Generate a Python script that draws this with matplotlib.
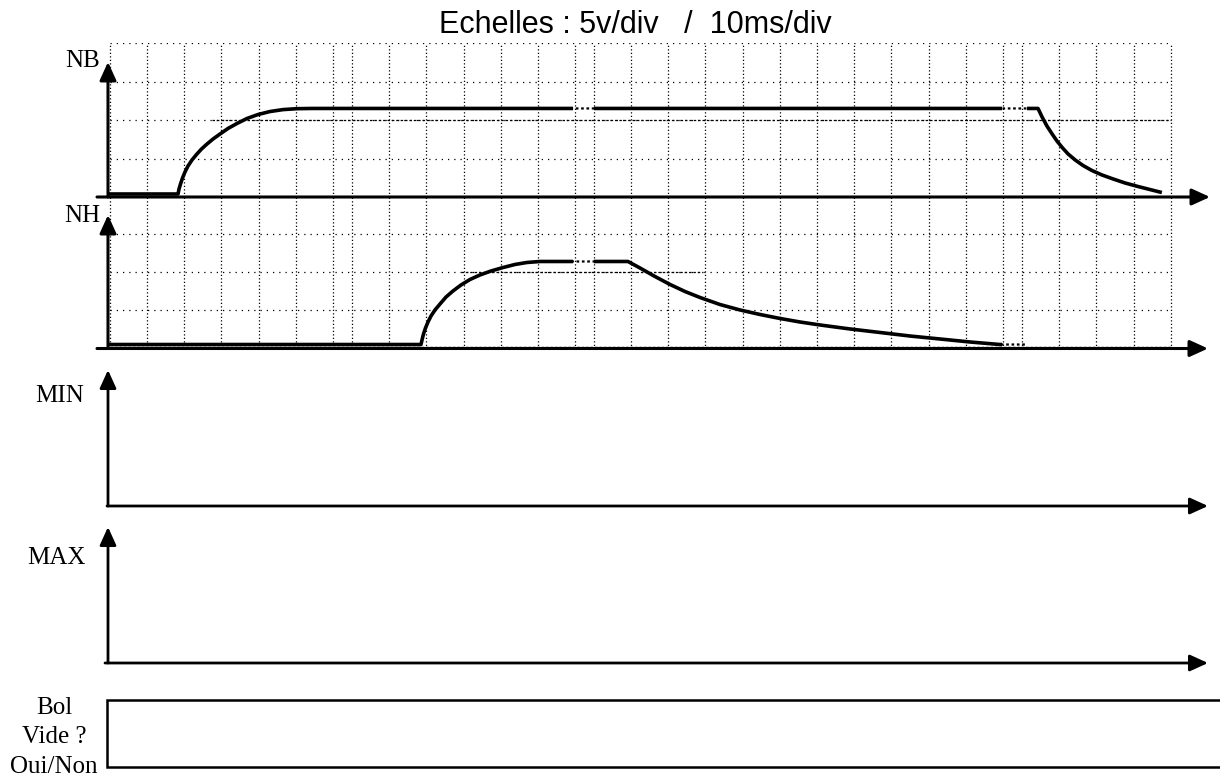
import numpy as np
import matplotlib
matplotlib.use("Agg")
import matplotlib.pyplot as plt
from matplotlib.patches import Rectangle

# ---------------- data ----------------
title = "Echelles : 5v/div   /  10ms/div"
panel_labels = ["NB", "NH", "MIN", "MAX"]
bol_labels = ["Bol", "Vide ?", "Oui/Non"]

# NB trace : time (ms), voltage (V)
nb_t = [0.0, 18.82, 19.09, 19.49, 20.03, 20.70, 21.51, 22.58, 23.79, 25.13, 26.61, 28.23,
        30.11, 32.26, 34.68, 37.37, 40.32, 43.55, 47.04, 50.81, 54.84,
        250.0, 251.1, 252.4, 253.8, 255.1, 256.5, 258.1, 260.0, 262.1, 264.5, 267.2,
        270.2, 273.4, 276.9, 280.1, 283.3]
nb_v = [0.39, 0.39, 1.04, 1.69, 2.47, 3.25, 4.03, 4.81, 5.52, 6.23, 6.88, 7.53,
        8.18, 8.90, 9.55, 10.20, 10.71, 11.10, 11.35, 11.47, 11.50,
        11.50, 10.39, 9.22, 8.18, 7.27, 6.43, 5.58, 4.81, 4.09, 3.44, 2.86,
        2.34, 1.82, 1.36, 0.97, 0.58]

# NH trace : time (ms), voltage (V)
nh_t = [0.0, 84.14, 84.41, 84.81, 85.35, 86.02, 86.83, 87.90, 89.25, 90.86, 92.74, 94.89,
        97.31, 100.0, 102.96, 106.18, 109.41, 112.63, 116.13,
        139.78, 143.01, 147.04, 151.08, 155.11, 159.14, 164.52, 169.89, 175.27, 180.65,
        186.02, 191.40, 199.46, 207.53, 215.59, 223.66, 231.72, 239.78, 247.04]
nh_v = [0.52, 0.52, 1.11, 1.89, 2.68, 3.46, 4.24, 5.03, 5.81, 6.72, 7.51, 8.29,
        9.01, 9.60, 10.12, 10.57, 10.97, 11.23, 11.36,
        11.36, 10.51, 9.40, 8.36, 7.44, 6.66, 5.74, 5.03, 4.44, 3.92,
        3.46, 3.07, 2.55, 2.09, 1.63, 1.24, 0.85, 0.52, 0.52]

# ---------------- layout ----------------
W, H = 1220, 778
X0 = 108.0            # pixel column of the vertical axes
PX_PER_MS = 3.72      # 10 ms / div
T_MAX = (W - X0) / PX_PER_MS

# oscilloscope screen pieces (start in ms, number of vertical division lines)
piece_starts = [0.5, 65.6, 130.6, 245.7]
piece_counts = [7, 7, 12, 5]
seams = [(125.0, 130.6), (240.3, 247.0)]
GRID_END = 285.7

fig = plt.figure(figsize=(W / 100, H / 100), dpi=100)
fig.patch.set_facecolor("white")


def fx(px):
    return px / W


def fy(py):
    return 1 - py / H


def t_of(px):
    return (px - X0) / PX_PER_MS


def make_axes(top_px, bottom_px, ylim):
    ax = fig.add_axes([fx(X0), fy(bottom_px), (W - X0) / W, (bottom_px - top_px) / H])
    ax.set_xlim(0, T_MAX)
    ax.set_ylim(*ylim)
    ax.set_axis_off()
    return ax


def arrow(ax, start, end, lw=2.2):
    ax.annotate("", xy=end, xytext=start,
                arrowprops=dict(arrowstyle="-|>,head_length=0.55,head_width=0.25",
                                mutation_scale=20, lw=lw, color="black",
                                shrinkA=0, shrinkB=0),
                annotation_clip=False)


VGRID_KW = dict(color="black", lw=0.9, dashes=(1.0, 1.8), zorder=1)
HGRID_KW = dict(color="black", lw=0.9, dashes=(1.0, 4.0), zorder=1)


def draw_grid(ax, levels, vtop):
    for s, n in zip(piece_starts, piece_counts):
        for k in range(n):
            x = s + 10 * k
            ax.plot([x, x], [0, vtop], **VGRID_KW)
    for lv in levels:
        ax.plot([piece_starts[0], GRID_END], [lv, lv], **HGRID_KW)


def draw_trace(ax, t, v):
    bounds = [-10] + [b for seam in seams for b in seam] + [T_MAX + 10]
    for i in range(0, len(bounds), 2):
        a, b = bounds[i], bounds[i + 1]
        ln, = ax.plot(t, v, color="black", lw=2.6, solid_capstyle="butt",
                      solid_joinstyle="round", zorder=3)
        ln.set_clip_path(Rectangle((a, -50), b - a, 100, transform=ax.transData))
    for a, b in seams:
        ln, = ax.plot(t, v, color="black", lw=1.6, dashes=(1.2, 1.2), zorder=3)
        ln.set_clip_path(Rectangle((a, -50), b - a, 100, transform=ax.transData))


# ---- NB panel ----
NB_BASE, NB_DIV = 197.0, 38.5
ax_nb = make_axes(NB_BASE - 4 * NB_DIV, NB_BASE, (0, 20))
draw_grid(ax_nb, [5, 10, 15, 20], 20)
ax_nb.plot([28, GRID_END], [10, 10], color="black", lw=0.9, dashes=(2.0, 1.5), zorder=1)
draw_trace(ax_nb, nb_t, nb_v)
arrow(ax_nb, (t_of(97), 0), (t_of(1210), 0))
arrow(ax_nb, (0, 0), (0, (NB_BASE - 62) / NB_DIV * 5))

# ---- NH panel ----
NH_BASE, NH_DIV = 348.5, 38.3
ax_nh = make_axes(NH_BASE - 4 * NH_DIV, NH_BASE, (0, 20))
draw_grid(ax_nh, [5, 10, 15], 20)
ax_nh.plot([95, 160], [10, 10], color="black", lw=0.9, dashes=(2.0, 1.5), zorder=1)
ax_nh.plot([piece_starts[0], GRID_END], [0.25, 0.25], color="black", lw=1.0,
           dashes=(2.0, 1.2), zorder=1)
draw_trace(ax_nh, nh_t, nh_v)
arrow(ax_nh, (t_of(97), 0), (t_of(1208), 0))
arrow(ax_nh, (0, 0), (0, (NH_BASE - 215) / NH_DIV * 5))

# ---- MIN / MAX panels ----
for base, tip, xstart in [(506, 370, 107), (663, 527, 105)]:
    ax = make_axes(tip, base, (0, 1))
    arrow(ax, (t_of(xstart), 0), (t_of(1208), 0), lw=2.0)
    arrow(ax, (t_of(108), 0), (t_of(108), 1), lw=2.0)

# ---- Bol vide box ----
ax_b = make_axes(700, 767, (0, 1))
ax_b.plot([T_MAX + 5, t_of(107), t_of(107), T_MAX + 5], [1, 1, 0, 0],
          color="black", lw=1.8, clip_on=False, solid_joinstyle="miter")

# ---------------- texts ----------------
fig.text(fx(635), fy(33), title, ha="center", va="baseline",
         family="Liberation Sans", fontsize=22)

SERIF = "Liberation Serif"
label_pos = [(100, 67, "right"), (100, 222, "right"), (84, 402, "right"), (86, 564, "right")]
for lab, (x, y, ha) in zip(panel_labels, label_pos):
    fig.text(fx(x), fy(y), lab, ha=ha, va="baseline", family=SERIF, fontsize=18)

for lab, y in zip(bol_labels, [714, 743, 773]):
    fig.text(fx(54), fy(y), lab, ha="center", va="baseline", family=SERIF, fontsize=18)

fig.savefig("out.png", dpi=100, facecolor="white")
